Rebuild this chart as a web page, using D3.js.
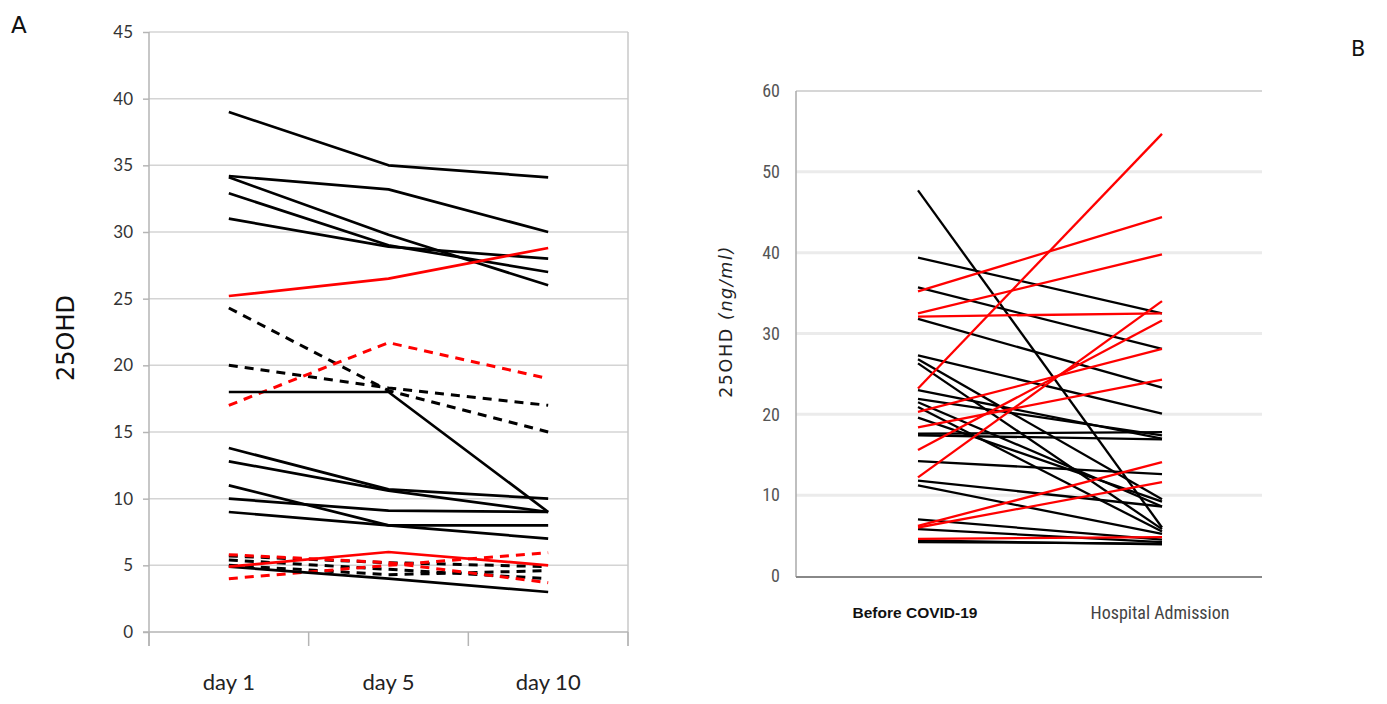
<!DOCTYPE html>
<html>
<head>
<meta charset="utf-8">
<script src="https://cdn.jsdelivr.net/npm/d3@7"></script>
<style>
  body { margin: 0; background: #fff; }
  svg { display: block; }
</style>
</head>
<body>
<div id="chart"></div>
<script>
// ---- Panel A data (25OHD at day 1 / day 5 / day 10) ----
const daysA = ["day 1", "day 5", "day 10"];
const ticksA = [0, 5, 10, 15, 20, 25, 30, 35, 40, 45];
const solidBlackA = [
  [39, 35, 34.1],
  [34.2, 33.2, 30],
  [34.1, 29.8, 26],
  [32.9, 29, 27],
  [31, 28.9, 28],
  [18, 18, 9],
  [13.8, 10.7, 10],
  [12.8, 10.6, 9],
  [11, 8, 8],
  [10, 9.1, 9],
  [9, 8, 7],
  [4.9, 4, 3]
];
const solidRedA = [
  [25.2, 26.5, 28.8],
  [4.9, 6, 5]
];
const dashedBlackA = [
  [24.3, 18.1, 15],
  [20, 18.3, 17],
  [5.7, 5.2, 4.9],
  [5.4, 4.7, 4],
  [5, 4.3, 4.6]
];
const dashedRedA = [
  [17, 21.7, 19],
  [4, 5, 5.95],
  [5.8, 5.2, 3.7]
];

// ---- Panel B data (before COVID-19 -> hospital admission) ----
const groupsB = ["Before COVID-19", "Hospital Admission"];
const ticksB = [0, 10, 20, 30, 40, 50, 60];
const blackB = [
  [47.7, 6.0], [39.4, 32.5], [35.7, 28.1], [31.8, 23.3], [27.3, 20.1],
  [26.8, 9.5], [26.3, 5.8], [23.0, 17.0], [21.9, 17.4], [21.5, 8.6],
  [20.9, 5.5], [19.6, 9.2], [17.6, 17.8], [17.4, 16.9], [14.2, 12.6],
  [11.8, 8.6], [11.2, 5.2], [7.0, 4.5], [5.8, 4.2], [4.4, 3.9], [4.2, 4.0]
];
const redB = [
  [23.2, 54.7], [35.2, 44.4], [32.5, 39.8], [32.1, 32.5], [20.3, 28.1],
  [18.4, 24.3], [15.6, 31.6], [12.2, 34.0], [6.2, 14.1], [6.0, 11.6], [4.6, 4.8]
];

const width = 1387, height = 704;
const svg = d3.select("#chart").append("svg")
  .attr("width", width).attr("height", height);

// ================= Panel A =================
const A = { left: 149, right: 628, top: 32, bottom: 632 };

const xA = d3.scaleBand().domain(daysA).range([A.left, A.right]);
const yA = d3.scaleLinear().domain([0, 45]).range([A.bottom, A.top]);

const gA = svg.append("g");

// gridlines
gA.append("g").selectAll("line").data(ticksA.slice(1)).join("line")
  .attr("x1", A.left).attr("x2", A.right)
  .attr("y1", d => yA(d)).attr("y2", d => yA(d))
  .attr("stroke", "#d4d4d4").attr("stroke-width", 1.5);

// right border
gA.append("line")
  .attr("x1", A.right).attr("x2", A.right)
  .attr("y1", A.top).attr("y2", A.bottom + 14)
  .attr("stroke", "#c8c8c8").attr("stroke-width", 1.5);

// y axis
const yAxisA = gA.append("g")
  .attr("transform", `translate(${A.left},0)`)
  .call(d3.axisLeft(yA).tickValues(ticksA).tickSize(6).tickPadding(10));
yAxisA.select(".domain").attr("stroke", "#b5b5b5").attr("stroke-width", 1.5)
  .attr("d", `M0,${A.top}V${A.bottom + 14}`);
yAxisA.selectAll(".tick line").attr("stroke", "#b5b5b5").attr("stroke-width", 1.5);
yAxisA.selectAll(".tick text")
  .attr("font-family", "Lato, 'Open Sans', sans-serif")
  .attr("font-size", 17).attr("fill", "#333");

// x axis
const xAxisA = gA.append("g")
  .attr("transform", `translate(0,${A.bottom})`)
  .call(d3.axisBottom(xA).tickSize(0).tickPadding(42));
xAxisA.select(".domain").attr("stroke", "#b5b5b5").attr("stroke-width", 1.5)
  .attr("d", `M${A.left - 6},0H${A.right}`);
xAxisA.selectAll(".tick text")
  .attr("font-family", "Lato, 'Open Sans', sans-serif")
  .attr("font-size", 22).attr("fill", "#222");
// category separators below axis
gA.append("g").selectAll("line")
  .data(daysA.map(d => xA(d)).concat([A.right]))
  .join("line")
  .attr("x1", d => d).attr("x2", d => d)
  .attr("y1", A.bottom).attr("y2", A.bottom + 14)
  .attr("stroke", "#b5b5b5").attr("stroke-width", 1.5);

const lineA = d3.line()
  .x((d, i) => xA(daysA[i]) + xA.bandwidth() / 2)
  .y(d => yA(d));

const drawA = (data, color, dash) => {
  gA.append("g").selectAll("path").data(data).join("path")
    .attr("d", lineA)
    .attr("fill", "none")
    .attr("stroke", color)
    .attr("stroke-width", dash ? 3 : 2.7)
    .attr("stroke-dasharray", dash)
    .attr("stroke-linejoin", "round");
};
drawA(dashedBlackA, "#000", "9,7");
drawA(dashedRedA, "#ff0000", "9,7");
drawA(solidBlackA, "#000", null);
drawA(solidRedA, "#ff0000", null);

gA.append("text")
  .attr("transform", `translate(74,${(A.top + A.bottom) / 2 + 6}) rotate(-90)`)
  .attr("text-anchor", "middle")
  .attr("font-family", "'DejaVu Sans', sans-serif")
  .attr("font-size", 24).attr("fill", "#111")
  .text("25OHD");

svg.append("text").attr("x", 11).attr("y", 33)
  .attr("font-family", "'DejaVu Sans', sans-serif")
  .attr("font-size", 23).attr("fill", "#111").text("A");

// ================= Panel B =================
const B = { left: 796, right: 1262, top: 91, bottom: 576 };

const xB = d3.scalePoint().domain(groupsB).range([918, 1162]);
const yB = d3.scaleLinear().domain([0, 60]).range([B.bottom, B.top]);

const gB = svg.append("g");

gB.append("g").selectAll("line").data(ticksB.slice(1, -1)).join("line")
  .attr("x1", B.left).attr("x2", B.right)
  .attr("y1", d => yB(d)).attr("y2", d => yB(d))
  .attr("stroke", "#ebebeb").attr("stroke-width", 3);

// top border
gB.append("line")
  .attr("x1", B.left).attr("x2", B.right)
  .attr("y1", B.top).attr("y2", B.top)
  .attr("stroke", "#c8c8c8").attr("stroke-width", 1.3);

const yAxisB = gB.append("g")
  .attr("transform", `translate(${B.left},0)`)
  .call(d3.axisLeft(yB).tickValues(ticksB).tickSize(0).tickPadding(16));
yAxisB.select(".domain").attr("stroke", "#aaa").attr("stroke-width", 1.5)
  .attr("d", `M0,${B.top}V${B.bottom + 1}`);
yAxisB.selectAll(".tick text")
  .attr("font-family", "'Liberation Sans Narrow', 'Roboto Condensed', 'DejaVu Sans Condensed', sans-serif")
  .attr("font-size", 18).attr("fill", "#555");

gB.append("line")
  .attr("x1", B.left).attr("x2", B.right)
  .attr("y1", B.bottom + 1).attr("y2", B.bottom + 1)
  .attr("stroke", "#888").attr("stroke-width", 2);

// category labels
gB.append("text")
  .attr("x", xB(groupsB[0]) - 3).attr("y", 618)
  .attr("text-anchor", "middle")
  .attr("font-family", "'Liberation Sans', Arial, sans-serif")
  .attr("font-weight", "bold")
  .attr("font-size", 15.5).attr("fill", "#111")
  .text(groupsB[0]);
gB.append("text")
  .attr("x", xB(groupsB[1]) - 2).attr("y", 619)
  .attr("text-anchor", "middle")
  .attr("font-family", "'Liberation Sans Narrow', 'Roboto Condensed', sans-serif")
  .attr("font-size", 18).attr("fill", "#444")
  .text(groupsB[1]);

const lineB = d3.line()
  .x((d, i) => xB(groupsB[i]))
  .y(d => yB(d));

const drawB = (data, color) => {
  gB.append("g").selectAll("path").data(data).join("path")
    .attr("d", lineB)
    .attr("fill", "none")
    .attr("stroke", color)
    .attr("stroke-width", 2.3);
};
drawB(blackB, "#000");
drawB(redB, "#ff0000");

const yLabB = gB.append("text")
  .attr("transform", `translate(732,${(B.top + B.bottom) / 2 - 12}) rotate(-90)`)
  .attr("text-anchor", "middle")
  .attr("font-family", "'DejaVu Sans', sans-serif")
  .attr("font-size", 17.5).attr("fill", "#222")
  .attr("letter-spacing", 1.6);
yLabB.append("tspan").text("25OHD ");
yLabB.append("tspan").attr("font-style", "italic").text("(ng/ml)");

svg.append("text").attr("x", 1351).attr("y", 56)
  .attr("font-family", "'DejaVu Sans', sans-serif")
  .attr("font-size", 21).attr("fill", "#111").text("B");
</script>
</body>
</html>
